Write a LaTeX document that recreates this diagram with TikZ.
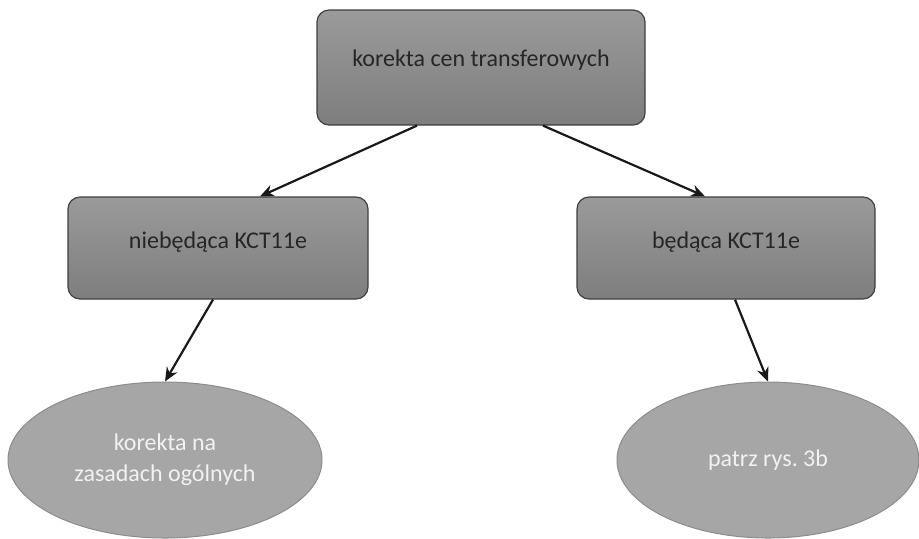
\documentclass[tikz,border=0pt]{standalone}
\usepackage{fontspec}
\setmainfont{Carlito}
\frenchspacing
\usetikzlibrary{positioning, arrows.meta, shapes.geometric}

\definecolor{boxtop}{HTML}{9A9A9A}
\definecolor{boxbottom}{HTML}{7E7E7E}
\definecolor{boxline}{HTML}{3F3F3F}
\definecolor{ovalfill}{HTML}{A6A6A6}
\definecolor{ovalline}{HTML}{8C8C8C}

\begin{document}
\begin{tikzpicture}[
    x=0.5pt, y=-0.5pt,
    kind/.style={
        rectangle,
        draw=boxline,
        line width=0.6pt,
        rounded corners=6pt,
        top color=boxtop,
        bottom color=boxbottom
    },
    label/.style={
        text=black!85,
        font=\fontsize{12}{14}\selectfont
    },
    result/.style={
        ellipse,
        draw=ovalline,
        line width=0.5pt,
        fill=ovalfill,
        text=white!95!black,
        align=center,
        font=\fontsize{12}{15.5}\selectfont,
        inner sep=0pt
    },
    arrow/.style={
        -{Stealth[length=7pt, width=6pt]},
        line width=1.1pt,
        black!90
    }
]
\useasboundingbox (0,0) rectangle (919,538);

% ===== korekta =====
\node[kind, minimum width=164pt, minimum height=57.5pt] (root) at (481,67.5) {};
\node[label] (roottext) at (481,60) {korekta cen transferowych};

% ===== rodzaje =====
\node[kind, minimum width=150pt, minimum height=51pt] (notkct) at (218,248) {};
\node[label] (notkcttext) at (218,242) {niebędąca KCT11e};
\node[kind, minimum width=149pt, minimum height=51pt] (iskct) at (726,248) {};
\node[label] (iskcttext) at (726,242) {będąca KCT11e};

% ===== skutki =====
\node[result, minimum width=157pt, minimum height=78pt] (general) at (165,460) {korekta na\\zasadach ogólnych};
\node[result, minimum width=151pt, minimum height=78pt] (seefig) at (768,460) {patrz rys. 3b};

% ===== strzałki =====
\draw[arrow] ([xshift=-32pt]root.south) -- ([xshift=21pt]notkct.north);
\draw[arrow] ([xshift=31pt]root.south) -- ([xshift=-10.5pt]iskct.north);
\draw[arrow] ([xshift=-2.5pt]notkct.south) -- (general.north);
\draw[arrow] ([xshift=4.5pt]iskct.south) -- (seefig.north);

\end{tikzpicture}
\end{document}
